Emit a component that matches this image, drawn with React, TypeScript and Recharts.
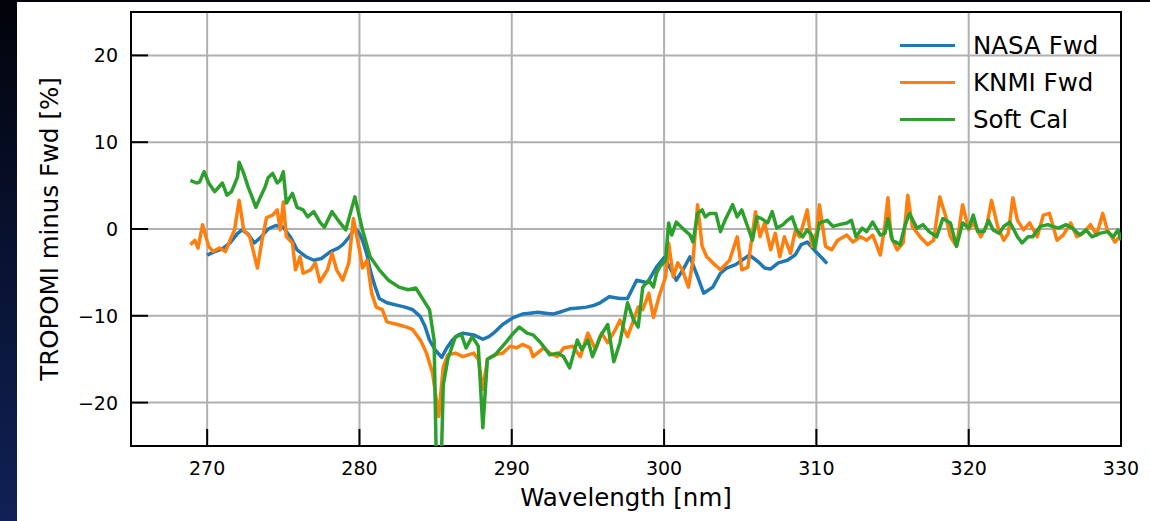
import React from 'react'
import { LineChart, Line, XAxis, YAxis, CartesianGrid, Legend, ReferenceArea, Label } from 'recharts'

// wavelength [nm] / TROPOMI minus Fwd [%]
const nasaWl = [
  270.0, 270.5, 271.0, 271.5, 272.0, 272.3, 272.7, 273.1, 273.5, 274.0,
  274.5, 275.0, 275.5, 275.9, 276.5, 277.0, 277.5, 278.1, 278.6, 278.9,
  279.3, 279.7, 280.0, 280.2, 280.5, 280.7, 281.0, 281.3, 281.8, 282.5,
  283.0, 283.5, 284.0, 284.3, 284.6, 285.0, 285.4, 285.7, 286.1, 286.5,
  286.8, 287.5, 288.1, 288.5, 288.8, 289.4, 290.1, 290.7, 291.2, 291.7,
  292.2, 292.7, 293.3, 293.8, 294.4, 294.9, 295.4, 295.8, 296.4, 297.1,
  297.6, 298.2, 298.9, 299.5, 300.0, 300.4, 300.8, 301.3, 301.7, 302.2,
  302.6, 303.2, 303.7, 304.1, 304.7, 305.6, 306.2, 306.6, 307.0, 307.5,
  308.1, 308.6, 309.0, 309.4, 309.9, 310.4, 310.7,
]
const nasaPct = [
  -3.0, -2.6, -2.3, -1.6, -0.5, -0.1, -0.6, -1.6, -1.0, 0.0,
  0.4, 0.2, -1.0, -2.4, -3.2, -3.6, -3.4, -2.6, -2.2, -1.8,
  -1.0, 0.1, -0.5, -1.3, -3.0, -4.7, -6.5, -8.0, -8.5, -8.8,
  -9.0, -9.3, -10.1, -11.2, -12.8, -14.0, -14.8, -13.8, -12.8, -12.2,
  -12.0, -12.2, -12.7, -12.4, -12.0, -11.0, -10.2, -9.8, -9.7, -9.6,
  -9.7, -9.8, -9.5, -9.2, -9.1, -9.0, -8.8, -8.5, -7.8, -8.0,
  -8.0, -5.9, -6.2, -4.4, -3.3, -4.5, -5.9, -4.5, -3.2, -5.5,
  -7.4, -6.7, -5.1, -4.5, -4.1, -3.0, -3.8, -4.5, -4.6, -3.9,
  -3.6, -3.0, -1.8, -1.5, -2.5, -3.4, -4.0,
]

const knmiWl = [
  268.9, 269.2, 269.4, 269.7, 270.1, 270.4, 270.8, 271.2, 271.5, 271.8,
  272.1, 272.4, 272.8, 273.3, 273.6, 273.9, 274.3, 274.6, 274.8, 275.0,
  275.2, 275.6, 275.8, 276.1, 276.3, 276.8, 277.1, 277.4, 277.9, 278.2,
  278.5, 278.9, 279.3, 279.6, 280.0, 280.2, 280.5, 280.8, 281.1, 281.5,
  281.8, 282.5, 283.1, 283.5, 284.0, 284.4, 284.8, 285.2, 285.5, 285.8,
  286.3, 286.8, 287.5, 287.8, 288.1, 288.4, 288.9, 289.4, 289.9, 290.3,
  290.7, 291.2, 291.4, 292.1, 292.5, 293.0, 293.4, 294.0, 294.5, 295.0,
  295.5, 295.9, 296.3, 296.8, 297.1, 297.6, 298.0, 298.3, 298.6, 299.0,
  299.3, 299.7, 300.1, 300.3, 300.6, 300.9, 301.2, 301.6, 301.9, 302.2,
  302.5, 302.8, 303.2, 303.7, 304.3, 304.8, 305.1, 305.5, 306.0, 306.3,
  306.6, 307.0, 307.3, 307.6, 307.9, 308.3, 308.6, 308.9, 309.4, 309.7,
  310.0, 310.2, 310.6, 311.0, 311.4, 312.0, 312.4, 312.9, 313.3, 313.7,
  314.2, 314.5, 314.7, 314.9, 315.3, 315.7, 316.0, 316.3, 316.8, 317.3,
  317.7, 318.1, 318.5, 318.8, 319.2, 319.6, 320.0, 320.3, 320.8, 321.2,
  321.5, 321.9, 322.3, 322.6, 322.9, 323.2, 323.6, 324.0, 324.5, 324.9,
  325.3, 325.8, 326.2, 326.7, 327.1, 327.5, 328.0, 328.4, 328.8, 329.1,
  329.6, 329.9,
]
const knmiPct = [
  -1.8, -1.3, -2.2, 0.5, -2.0, -2.6, -2.2, -2.6, -1.3, -0.1,
  3.3, -0.1, -0.9, -4.5, -1.3, 1.3, 1.6, 2.2, -0.1, 3.1,
  -0.9, -1.6, -4.7, -3.2, -5.1, -4.7, -3.9, -6.1, -4.7, -2.8,
  -4.7, -5.9, -3.9, 1.2, -2.4, -4.5, -3.6, -7.4, -9.0, -9.3,
  -10.7, -11.0, -11.3, -11.6, -12.8, -14.3, -16.6, -21.6, -15.9, -14.5,
  -14.3, -14.7, -14.3, -15.0, -18.5, -15.0, -14.5, -14.3, -13.5, -13.7,
  -13.3, -13.7, -14.7, -13.7, -14.3, -14.7, -13.7, -13.5, -14.7, -12.0,
  -13.9, -12.0, -13.1, -11.6, -10.5, -12.4, -10.5, -9.0, -9.3, -7.4,
  -10.2, -7.6, -5.5, -1.6, -5.5, -3.9, -4.7, -6.7, -3.6, 2.8,
  -2.0, -3.2, -3.9, -4.7, -3.6, -0.9, -4.7, -4.4, 2.0, -0.9,
  0.7, -2.4, -0.5, -3.2, -0.9, -2.8, -0.3, -0.9, 2.2, -2.0,
  -0.5, 2.8, -2.0, -2.4, -1.3, -0.7, -1.5, -0.9, -1.3, -0.7,
  -3.0, 0.5, 3.6, -0.9, -2.4, -1.6, 3.9, 0.3, -0.9, -1.8,
  -1.3, 3.7, 1.4, -0.9, -2.0, 2.8, -0.1, 0.7, -0.9, 0.5,
  3.3, 0.3, -1.3, -0.5, 3.6, 1.0, -0.1, 0.7, -0.9, 1.6,
  1.8, -1.3, -0.7, 0.7, -0.9, -0.5, 0.5, -0.7, 1.8, -0.1,
  -1.5, -0.9,
]

const softWl = [
  268.9, 269.3, 269.5, 269.8, 270.1, 270.5, 271.0, 271.3, 271.6, 272.0,
  272.1, 272.4, 272.7, 272.9, 273.2, 273.5, 273.8, 274.0, 274.3, 274.6,
  274.8, 275.0, 275.2, 275.6, 275.9, 276.3, 276.6, 277.0, 277.4, 277.7,
  278.2, 278.6, 279.1, 279.7, 280.0, 280.2, 280.7, 281.3, 281.9, 282.6,
  283.2, 283.7, 284.2, 284.6, 284.9, 285.1, 285.3, 285.5, 285.8, 286.3,
  286.7, 287.0, 287.4, 287.8, 288.1, 288.4, 288.9, 289.6, 290.1, 290.5,
  291.0, 291.4, 291.9, 292.5, 293.0, 293.4, 293.8, 294.3, 294.6, 295.0,
  295.3, 295.8, 296.3, 296.7, 297.1, 297.6, 298.0, 298.3, 298.6, 299.0,
  299.3, 299.5, 299.7, 300.1, 300.3, 300.5, 300.8, 301.2, 301.7, 301.9,
  302.2, 302.5, 302.7, 303.0, 303.4, 303.7, 304.0, 304.5, 304.8, 305.1,
  305.5, 305.8, 306.1, 306.4, 306.8, 307.1, 307.4, 307.8, 308.1, 308.4,
  308.7, 309.1, 309.4, 309.7, 309.9, 310.2, 310.7, 311.1, 311.5, 312.0,
  312.3, 312.6, 313.0, 313.3, 313.7, 314.2, 314.5, 314.7, 315.0, 315.5,
  315.8, 316.1, 316.6, 317.0, 317.4, 317.9, 318.3, 318.8, 319.2, 319.6,
  320.0, 320.3, 320.6, 321.0, 321.3, 321.6, 322.0, 322.3, 322.7, 323.2,
  323.5, 323.9, 324.2, 324.7, 325.2, 325.5, 325.9, 326.4, 326.8, 327.3,
  327.7, 328.1, 328.6, 329.1, 329.5, 329.8, 330.0,
]
const softPct = [
  5.6, 5.3, 5.4, 6.6, 5.3, 4.3, 5.3, 3.9, 4.3, 6.0,
  7.7, 6.4, 4.8, 3.9, 2.5, 3.7, 4.8, 5.9, 6.4, 5.3,
  5.6, 6.6, 3.0, 4.1, 2.5, 2.2, 1.4, 2.0, 0.8, 0.2,
  2.0, 1.0, -0.1, 3.7, 1.4, -0.1, -3.2, -4.7, -5.9, -6.7,
  -7.0, -6.8, -8.2, -9.3, -12.8, -32.0, -32.0, -18.0, -15.0, -12.4,
  -12.2, -13.7, -12.4, -13.5, -22.9, -15.0, -14.5, -13.1, -12.0, -11.3,
  -12.0, -12.2, -13.1, -14.5, -14.3, -14.7, -16.0, -12.8, -13.9, -12.8,
  -14.7, -12.4, -11.0, -15.3, -13.1, -8.5, -10.5, -11.3, -6.7, -5.9,
  -6.7, -5.1, -4.4, -3.6, 0.7, -0.7, 0.8, 0.1, -0.7, -1.5,
  1.8, 2.2, 1.4, 1.8, 1.8, -0.3, 1.0, 2.8, 1.4, 2.2,
  0.2, -1.3, 1.4, 1.2, 0.7, 2.0, 0.1, 0.5, 1.0, 1.4,
  -0.1, -0.9, -0.1, -0.7, -2.2, 0.7, 1.0, 0.3, 0.5, 0.7,
  1.0, -0.9, 0.1, -0.3, 0.8, -0.7, -0.5, 1.2, -1.3, -1.8,
  0.3, 1.8, 0.1, 0.5, -0.3, -0.9, 1.2, 0.7, -2.0, 0.7,
  0.1, 1.6, -0.3, -0.3, 1.0, -0.1, -0.5, 0.3, 0.8, -0.9,
  -1.6, -0.9, -0.9, 0.3, 0.5, 0.3, 0.1, 0.5, 0.1, -0.7,
  -0.1, -0.9, -0.5, -0.3, -0.9, -0.1, -1.3,
]

const xTicks = [270, 280, 290, 300, 310, 320, 330]
const yTicks = [-20, -10, 0, 10, 20]

const seriesNames = ['NASA Fwd', 'KNMI Fwd', 'Soft Cal']
const seriesColors = ['#1f77b4', '#ff7f0e', '#2ca02c']

const toPoints = (wl: number[], pct: number[]) => wl.map((w, i) => ({ wl: w, pct: pct[i] }))

const seriesData = [
  toPoints(nasaWl, nasaPct),
  toPoints(knmiWl, knmiPct),
  toPoints(softWl, softPct),
]

const FONT = 'DejaVu Sans'

const fmt = (v: number) => (v < 0 ? '\u2212' + Math.abs(v) : String(v))

// matplotlib style: ticks point into the axes
function XTick({ x, y, payload }: any) {
  return (
    <g>
      <line x1={x} x2={x} y1={y} y2={y - 17} stroke="#000" strokeWidth={2} />
      <text x={x} y={y + 29} textAnchor="middle" fontSize={19} fontFamily={FONT} fill="#000">
        {fmt(payload.value)}
      </text>
    </g>
  )
}

function YTick({ x, y, payload }: any) {
  return (
    <g>
      <line x1={x} x2={x + 17} y1={y} y2={y} stroke="#000" strokeWidth={2} />
      <text x={x - 13} y={y + 7} textAnchor="end" fontSize={19} fontFamily={FONT} fill="#000">
        {fmt(payload.value)}
      </text>
    </g>
  )
}

function XLabel({ viewBox }: any) {
  return (
    <text x={viewBox.x + viewBox.width / 2} y={viewBox.y + 60} textAnchor="middle" fontSize={24.5} fontFamily={FONT} fill="#000">
      Wavelength [nm]
    </text>
  )
}

function YLabel({ viewBox }: any) {
  const cx = viewBox.x - 13
  const cy = viewBox.y + viewBox.height / 2
  return (
    <text x={cx} y={cy} transform={`rotate(-90, ${cx}, ${cy})`} textAnchor="middle" fontSize={24.5} fontFamily={FONT} fill="#000">
      TROPOMI minus Fwd [%]
    </text>
  )
}

const renderLegend = () => (
  <div style={{ fontFamily: FONT, fontSize: 24.5, color: '#000' }}>
    {seriesNames.map((name, i) => (
      <div key={name} style={{ display: 'flex', alignItems: 'center', height: 37, lineHeight: '37px' }}>
        <div style={{ width: 55, height: 3.5, background: seriesColors[i], marginRight: 18 }} />
        <span>{name}</span>
      </div>
    ))}
  </div>
)

export default function App() {
  return (
    <div style={{ position: 'absolute', left: 0, top: 0, width: 1150, height: 521, background: '#fff', overflow: 'hidden' }}>
      <div style={{ position: 'absolute', left: 0, top: 0, width: 17, height: 521, background: 'linear-gradient(#02030a, #08112e 45%, #0f2156)' }} />
      <div style={{ position: 'absolute', left: 0, top: 0, width: 1150, height: 2, background: '#04050c' }} />
      <div style={{ position: 'absolute', left: 0, top: 0 }}>
        <LineChart width={1150} height={521} margin={{ top: 12, right: 29, bottom: 15, left: 71 }}>
          <CartesianGrid stroke="#b0b0b0" strokeWidth={2} />
          <XAxis
            type="number"
            dataKey="wl"
            domain={[265, 330]}
            ticks={xTicks}
            interval={0}
            allowDataOverflow
            height={60}
            axisLine={false}
            tickLine={false}
            tickSize={0}
            tickMargin={0}
            tick={<XTick />}
          >
            <Label content={<XLabel />} />
          </XAxis>
          <YAxis
            type="number"
            domain={[-25, 25]}
            ticks={yTicks}
            interval={0}
            allowDataOverflow
            width={60}
            axisLine={false}
            tickLine={false}
            tickSize={0}
            tickMargin={0}
            tick={<YTick />}
          >
            <Label content={<YLabel />} />
          </YAxis>
          {seriesNames.map((name, i) => (
            <Line
              key={name}
              data={seriesData[i]}
              dataKey="pct"
              name={name}
              type="linear"
              stroke={seriesColors[i]}
              strokeWidth={3.5}
              strokeLinejoin="round"
              dot={false}
              activeDot={false}
              isAnimationActive={false}
            />
          ))}
          <ReferenceArea x1={265} x2={330} y1={-25} y2={25} fill="none" stroke="#000" strokeWidth={2} ifOverflow="visible" />
          <Legend
            layout="horizontal"
            verticalAlign="middle"
            align="center"
            content={renderLegend}
            wrapperStyle={{ top: 27, left: 900, width: 230, height: 111 }}
          />
        </LineChart>
      </div>
    </div>
  )
}
